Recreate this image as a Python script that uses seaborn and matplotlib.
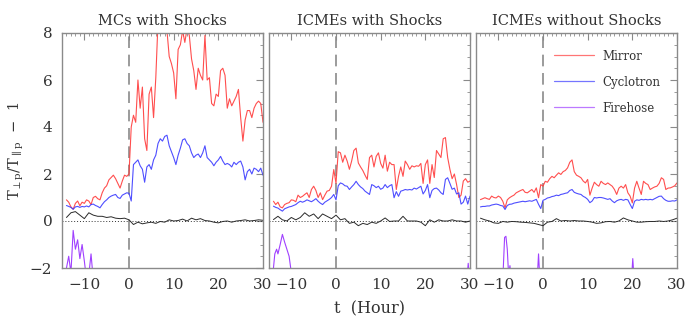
import numpy as np
import pandas as pd
import seaborn as sns
import matplotlib.pyplot as plt
from matplotlib.lines import Line2D
from matplotlib.ticker import MultipleLocator

sns.set_theme(style="white")
plt.rcParams['font.family'] = ['DejaVu Serif']
plt.rcParams['mathtext.fontset'] = 'dejavuserif'

titles = ['MCs with Shocks', 'ICMEs with Shocks', 'ICMEs without Shocks']
t_half = np.arange(-14, 30.5, 0.5)
t_hour = np.arange(-14, 31, 1.0)

# Mirror (red), half-hour samples
mirror1 = [0.90, 0.80, 0.60, 0.50, 0.75, 0.85, 0.65, 0.80, 0.75, 0.90, 0.85, 0.70, 1.00, 1.05,
           0.95, 0.90, 1.20, 1.40, 1.50, 1.75, 1.85, 1.95, 1.80, 1.60, 1.40, 1.70, 1.95, 1.90,
           2.0, 4.0, 4.5, 4.2, 6.0, 4.8, 5.7, 3.5, 3.0, 5.4, 5.7, 4.4, 6.1, 8.5, 8.6, 8.8,
           8.4, 8.1, 7.0, 6.7, 6.3, 5.2, 7.3, 7.5, 8.1, 7.6, 8.2, 7.9, 6.9, 6.4, 5.6, 6.5,
           6.2, 6.0, 7.9, 6.0, 6.1, 5.0, 4.9, 5.4, 5.3, 6.4, 6.5, 6.2, 4.8, 5.2, 4.9, 5.1,
           5.3, 5.6, 4.4, 3.4, 4.3, 4.7, 4.7, 4.4, 4.8, 5.0, 5.1, 5.0, 4.2]
mirror2 = [0.84, 0.70, 0.80, 0.60, 0.56, 0.70, 0.75, 0.78, 0.90, 0.88, 0.82, 1.10, 1.00, 1.05,
           1.13, 1.20, 1.00, 1.34, 1.48, 1.30, 1.00, 1.20, 0.91, 1.10, 1.27, 1.30, 1.48, 2.19,
           1.60, 2.95, 2.90, 2.50, 2.80, 2.55, 2.20, 2.55, 3.00, 3.10, 2.47, 2.30, 2.15, 1.95,
           1.77, 2.70, 2.80, 2.30, 2.75, 2.90, 2.45, 2.25, 2.80, 2.12, 2.50, 2.40, 2.40, 1.34,
           1.90, 2.30, 1.90, 2.55, 2.40, 2.20, 2.35, 2.30, 2.35, 2.33, 2.45, 1.60, 2.40, 2.60,
           1.60, 2.40, 1.85, 3.00, 2.85, 2.70, 3.50, 3.55, 2.70, 2.20, 1.80, 2.00, 1.55, 1.00,
           1.10, 1.70, 1.80, 1.65, 1.70]
mirror3 = [0.91, 0.95, 0.99, 0.95, 0.92, 1.06, 1.00, 0.98, 1.06, 1.00, 0.84, 0.56, 0.90, 0.99,
           1.05, 1.10, 1.20, 1.25, 1.30, 1.34, 1.22, 1.20, 1.27, 1.34, 1.22, 1.41, 0.99, 1.55,
           1.48, 1.69, 1.65, 1.80, 1.90, 1.84, 1.95, 2.05, 1.98, 2.10, 2.15, 2.26, 2.50, 2.60,
           2.10, 1.95, 1.90, 1.84, 1.70, 1.62, 1.77, 1.10, 1.40, 1.65, 1.55, 1.48, 1.69, 1.60,
           1.55, 1.62, 1.55, 1.48, 1.34, 1.13, 1.40, 1.48, 1.40, 1.55, 1.20, 1.06, 0.77, 1.40,
           1.69, 1.40, 1.13, 1.69, 1.60, 1.55, 1.34, 1.40, 1.45, 1.48, 1.60, 1.84, 1.77, 1.34,
           1.40, 1.41, 1.45, 1.50, 1.62]

# Cyclotron (blue), half-hour samples
cyclo1 = [0.66, 0.62, 0.58, 0.50, 0.60, 0.62, 0.58, 0.62, 0.60, 0.64, 0.60, 0.70, 0.72, 0.66,
          0.62, 0.56, 0.70, 0.82, 0.90, 1.00, 1.06, 1.10, 1.13, 1.00, 0.96, 1.10, 1.15, 1.20,
          1.18, 0.85, 2.40, 2.50, 2.60, 2.35, 2.20, 1.65, 2.30, 2.40, 2.20, 2.60, 2.80, 3.30,
          3.50, 3.40, 3.60, 3.65, 3.20, 2.95, 2.70, 2.40, 2.80, 3.10, 3.45, 3.50, 3.30, 3.20,
          2.90, 2.70, 2.80, 2.85, 2.70, 2.90, 3.20, 2.70, 2.60, 2.50, 2.35, 2.50, 2.60, 2.75,
          2.55, 2.40, 2.45, 2.40, 2.30, 2.50, 2.40, 2.50, 2.55, 2.30, 1.75, 2.10, 2.20, 2.00,
          2.25, 2.20, 2.10, 2.25, 1.95]
cyclo2 = [0.63, 0.58, 0.55, 0.48, 0.42, 0.52, 0.56, 0.60, 0.62, 0.66, 0.70, 0.78, 0.84, 0.80,
          0.84, 0.90, 0.86, 0.82, 0.88, 0.95, 0.84, 0.76, 0.70, 0.80, 0.86, 0.92, 1.00, 1.13,
          0.90, 1.50, 1.62, 1.58, 1.50, 1.48, 1.34, 1.45, 1.55, 1.69, 1.55, 1.45, 1.38, 1.27,
          1.20, 1.13, 1.55, 1.50, 1.42, 1.48, 1.35, 1.40, 1.55, 1.42, 1.50, 1.55, 0.99, 1.25,
          1.05, 1.27, 1.30, 1.34, 1.32, 1.34, 1.32, 1.40, 1.36, 1.42, 1.48, 1.15, 1.30, 1.55,
          0.99, 1.30, 1.38, 1.40, 1.32, 1.20, 1.13, 1.77, 1.84, 1.60, 1.35, 1.40, 1.15, 1.20,
          0.72, 0.80, 1.06, 0.72, 1.06]
cyclo3 = [0.60, 0.62, 0.62, 0.64, 0.64, 0.68, 0.70, 0.72, 0.70, 0.66, 0.64, 0.49, 0.66, 0.71,
          0.72, 0.76, 0.78, 0.80, 0.82, 0.84, 0.82, 0.84, 0.86, 0.84, 0.88, 0.92, 0.71, 0.53,
          0.88, 0.92, 0.98, 1.00, 1.04, 1.06, 1.10, 1.08, 1.13, 1.15, 1.18, 1.20, 1.30, 1.34,
          1.22, 1.18, 1.15, 1.13, 1.05, 1.00, 0.92, 0.78, 0.85, 1.00, 0.98, 1.00, 1.00, 0.98,
          0.95, 0.92, 0.95, 0.85, 0.78, 0.86, 0.90, 0.92, 0.88, 0.92, 0.90, 0.71, 0.53, 0.84,
          0.90, 0.88, 0.92, 0.90, 0.92, 0.90, 0.92, 0.90, 0.95, 1.00, 1.05, 1.06, 0.95, 0.88,
          0.84, 0.84, 0.86, 0.85, 0.90]

# black curve, hourly samples
black1 = [0.15, 0.35, 0.40, 0.25, 0.10, 0.35, 0.25, 0.20, 0.20, 0.15, 0.18, 0.12, 0.10, 0.12, 0.05,
          -0.15, -0.05, -0.12, -0.08, -0.05, -0.10, -0.02, -0.05, 0.05, 0.00,
          0.02, 0.08, 0.00, 0.12, 0.05, 0.10, 0.02, 0.00, -0.05, -0.08,
          -0.02, 0.00, -0.05, 0.00, 0.02, 0.05, 0.00, 0.02, 0.05, 0.03]
black2 = [0.06, 0.20, 0.05, 0.00, 0.15, 0.05, 0.15, 0.35, 0.20, 0.30, 0.10, 0.30, 0.20, 0.10, 0.25,
          0.05, 0.10, -0.10, -0.05, -0.20, -0.10, -0.15, -0.05, -0.10, 0.00,
          0.13, -0.02, 0.00, 0.00, 0.20, 0.00, 0.00, 0.00, -0.05, -0.20,
          0.05, -0.05, 0.05, 0.00, 0.00, 0.05, 0.00, 0.00, -0.05, 0.00]
black3 = [0.12, 0.05, 0.00, -0.08, -0.10, -0.02, -0.05, -0.02, -0.03, -0.05, -0.06, -0.08, -0.10, -0.15, -0.20,
          -0.05, -0.02, 0.10, 0.00, 0.02, 0.00, 0.02, 0.00, 0.00, -0.02,
          -0.05, -0.10, -0.08, -0.03, -0.02, -0.05, 0.00, 0.13, 0.05, 0.00,
          -0.05, -0.05, -0.03, -0.02, -0.02, 0.00, -0.02, 0.00, 0.05, 0.12]

# Firehose (purple), only where visible; nan = gap
fire_t1 = [-14.0, -13.5, -13.0, -12.5, -12.0, -11.5, -11.0, -10.5, -10.0, -9.5, -9.0, -8.5, -8.0]
fire_v1 = [-2.0, -1.5, -2.2, -0.4, -1.2, -0.8, -1.6, -1.0, -1.7, -2.5, -2.3, -1.4, -2.5]
fire_t2 = [-14.0, -13.7, -13.3, -13.0, -12.5, -12.0, -11.5, -11.0, -10.5, -10.0, np.nan, 29.3, 29.6, 29.9]
fire_v2 = [-2.0, -1.4, -1.2, -1.4, -1.0, -0.57, -0.9, -1.2, -1.5, -2.2, np.nan, -2.5, -1.8, -2.5]
fire_t3 = [-9.0, -8.6, -8.3, -8.0, -7.7, -7.4, -7.2, -7.0, np.nan, -1.3, -1.0, -0.7, np.nan, 19.8, 20.1, 20.4]
fire_v3 = [-2.5, -0.7, -0.65, -1.2, -2.3, -1.9, -2.3, -2.5, np.nan, -2.5, -1.4, -2.5, np.nan, -2.5, -1.6, -2.5]

RED, BLUE, BLACK, PURPLE = '#ff3b3b', '#3b3bff', '#2a2a2a', '#a040ff'
FRAME = '#8a8a8a'

panels = [(mirror1, cyclo1, black1, fire_t1, fire_v1),
          (mirror2, cyclo2, black2, fire_t2, fire_v2),
          (mirror3, cyclo3, black3, fire_t3, fire_v3)]

fig = plt.figure(figsize=(6.9, 3.28), dpi=100)
lefts = [62 / 690, 269 / 690, 476 / 690]
axes = [fig.add_axes([l, 1 - 268 / 328, 201 / 690, 235 / 328]) for l in lefts]

for i, (ax, (mir, cyc, blk, ft, fv)) in enumerate(zip(axes, panels)):
    ax.axhline(0, color='#333333', ls=(0, (1, 2)), lw=0.7, zorder=1)
    ax.axvline(0, color=FRAME, ls=(0, (7, 4)), lw=1.2, zorder=1)
    sns.lineplot(x=t_half, y=mir, ax=ax, color=RED, lw=0.8, alpha=0.9)
    sns.lineplot(x=t_half, y=cyc, ax=ax, color=BLUE, lw=0.8, alpha=0.9)
    sns.lineplot(x=t_hour, y=blk, ax=ax, color=BLACK, lw=0.7)
    # firehose segments split at gaps
    seg_t, seg_v = [], []
    for tt, vv in list(zip(ft, fv)) + [(np.nan, np.nan)]:
        if np.isnan(vv):
            if seg_t:
                sns.lineplot(x=seg_t, y=seg_v, ax=ax, color=PURPLE, lw=0.8, sort=False, estimator=None)
            seg_t, seg_v = [], []
        else:
            seg_t.append(tt)
            seg_v.append(vv)

    ax.set_xlim(-15, 30)
    ax.set_ylim(-2, 8)
    ax.xaxis.set_major_locator(MultipleLocator(10))
    ax.xaxis.set_minor_locator(MultipleLocator(1))
    ax.yaxis.set_major_locator(MultipleLocator(2))
    ax.yaxis.set_minor_locator(MultipleLocator(0.5))
    ax.tick_params(which='both', direction='in', top=True, right=True, color=FRAME,
                   labelcolor='#333333', labelsize=11, pad=7)
    ax.tick_params(which='major', length=5, width=0.8)
    ax.tick_params(which='minor', length=2.5, width=0.6)
    ax.set_xticks([-10, 0, 10, 20, 30])
    ax.set_xticklabels(['\u221210', '0', '10', '20', '30'])
    for s in ax.spines.values():
        s.set_color(FRAME)
        s.set_linewidth(1.0)
    ax.set_title(titles[i], fontsize=10.5, color='#333333', pad=6)
    ax.set_xlabel('')
    ax.set_ylabel('')
    if i == 0:
        ax.set_yticks([-2, 0, 2, 4, 6, 8])
        ax.set_yticklabels(['\u22122', '0', '2', '4', '6', '8'])
    else:
        ax.set_yticklabels([])

axes[1].set_xlabel('t  (Hour)', fontsize=11.5, color='#333333', labelpad=6)
axes[0].set_ylabel(r'$\mathrm{T_{\perp p}/T_{\parallel p}}$  ' + '\u2212  1',
                   fontsize=10.5, color='#333333', labelpad=3)

handles = [Line2D([], [], color=RED, lw=0.9, alpha=0.7),
           Line2D([], [], color=BLUE, lw=0.9, alpha=0.7),
           Line2D([], [], color=PURPLE, lw=0.9, alpha=0.7)]
axes[2].legend(handles, ['Mirror', 'Cyclotron', 'Firehose'], loc='upper right', frameon=False,
               fontsize=8.5, handlelength=3.4, handletextpad=0.7, labelspacing=1.1,
               borderaxespad=1.0, labelcolor='#333333')

fig.savefig('out.png', dpi=100)
